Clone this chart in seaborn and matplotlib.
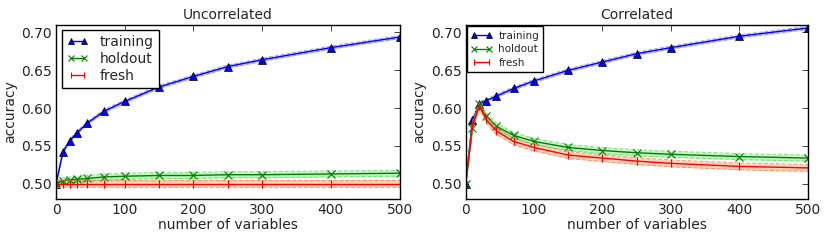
import numpy as np
import pandas as pd
import matplotlib
matplotlib.use('Agg')
import matplotlib.pyplot as plt
import seaborn as sns

# Data
n_vars = [0, 10, 20, 30, 45, 70, 100, 150, 200, 250, 300, 400, 500]

unc_training = [0.500, 0.542, 0.557, 0.567, 0.580, 0.596, 0.609, 0.628, 0.642, 0.655, 0.664, 0.680, 0.694]
unc_holdout = [0.500, 0.504, 0.505, 0.506, 0.507, 0.509, 0.510, 0.511, 0.511, 0.512, 0.512, 0.513, 0.514]
unc_fresh = [0.500, 0.500, 0.500, 0.500, 0.500, 0.500, 0.500, 0.500, 0.500, 0.500, 0.500, 0.500, 0.500]

cor_training = [0.500, 0.584, 0.606, 0.610, 0.616, 0.626, 0.636, 0.650, 0.661, 0.672, 0.680, 0.695, 0.706]
cor_holdout = [0.500, 0.574, 0.605, 0.590, 0.576, 0.564, 0.556, 0.548, 0.544, 0.541, 0.539, 0.536, 0.534]
cor_fresh = [0.500, 0.578, 0.603, 0.585, 0.570, 0.556, 0.548, 0.538, 0.534, 0.530, 0.527, 0.523, 0.521]

# band half-widths (std)
sd_training = 0.002
sd_holdout = 0.004
sd_fresh = 0.0045

sns.set_style("white")
plt.rcParams['font.family'] = ['DejaVu Sans']
plt.rcParams['xtick.direction'] = 'in'
plt.rcParams['ytick.direction'] = 'in'

fig = plt.figure(figsize=(8.3, 2.42), dpi=100)
ax1 = fig.add_axes([0.0675, 0.178, 0.414, 0.719])
ax2 = fig.add_axes([0.561, 0.178, 0.412, 0.719])

series_style = [
    ('training', 'blue', '^', '#8080ff', sd_training),
    ('holdout', 'green', 'x', '#55dd55', sd_holdout),
    ('fresh', 'red', '|', '#f57f3f', sd_fresh),
]


def draw(ax, values, title, leg_opts):
    x = np.array(n_vars)
    for (name, col, mk, band, sd), y in zip(series_style, values):
        y = np.array(y)
        ax.fill_between(x, y - sd, y + sd, color=band, alpha=0.35, lw=0)
        ax.plot(x, y - sd, color=band, lw=0.8, ls='--', alpha=0.7)
        ax.plot(x, y + sd, color=band, lw=0.8, ls='--', alpha=0.7)
        df = pd.DataFrame({'x': x, 'y': y})
        if mk == '^':
            kw = dict(markersize=5.5, markeredgecolor='black', markeredgewidth=0.5)
        else:
            kw = dict(markersize=5.5, markeredgecolor=col, markeredgewidth=0.8)
        sns.lineplot(data=df, x='x', y='y', ax=ax, color=col, marker=mk,
                     lw=1.0, label=name, **kw)
    ax.set_xlim(0, 500)
    ax.set_ylim(0.48, 0.71)
    ax.set_xticks([0, 100, 200, 300, 400, 500])
    ax.set_yticks([0.50, 0.55, 0.60, 0.65, 0.70])
    ax.set_yticklabels(['0.50', '0.55', '0.60', '0.65', '0.70'])
    ax.tick_params(labelsize=10, top=True, right=True, length=4, width=0.6, pad=3)
    ax.set_xlabel('number of variables', fontsize=10, labelpad=1)
    ax.set_ylabel('accuracy', fontsize=10, labelpad=3)
    ax.set_title(title, fontsize=10, pad=4)
    for s in ax.spines.values():
        s.set_color('black')
        s.set_linewidth(1)
    leg = ax.legend(loc='upper left', frameon=True, fancybox=False,
                    edgecolor='black', framealpha=1, numpoints=2, **leg_opts)
    leg.get_frame().set_linewidth(1)


draw(ax1, [unc_training, unc_holdout, unc_fresh], 'Uncorrelated',
     dict(fontsize=10, markerscale=0.9, handlelength=1.6, handletextpad=0.8,
          borderpad=0.35, labelspacing=0.2, borderaxespad=0.4))
draw(ax2, [cor_training, cor_holdout, cor_fresh], 'Correlated',
     dict(fontsize=7.5, markerscale=0.75, handlelength=2.0, handletextpad=0.6,
          borderpad=0.4, labelspacing=0.35, borderaxespad=0.15))

fig.savefig('out.png', dpi=100)
